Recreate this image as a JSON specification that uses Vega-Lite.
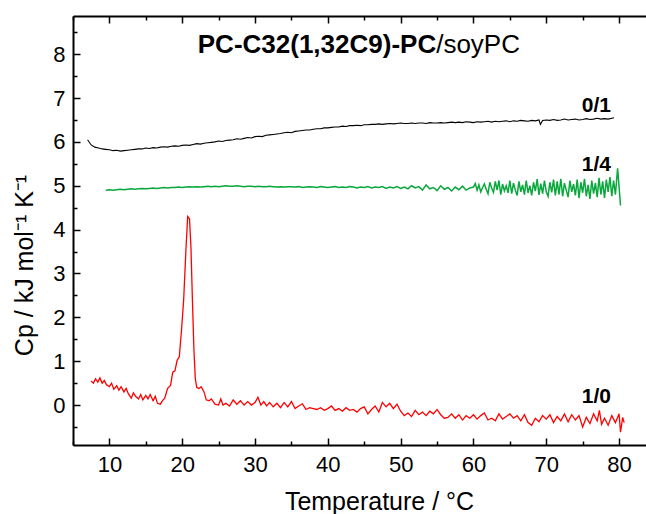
{
  "$schema": "https://vega.github.io/schema/vega-lite/v6.json",
  "width": 573,
  "height": 429,
  "autosize": "none",
  "padding": {"left": 73, "top": 16, "right": 0, "bottom": 69},
  "background": "white",
  "config": {
    "view": {"stroke": null},
    "font": "Liberation Sans",
    "axis": {
      "domainColor": "black",
      "domainWidth": 2,
      "tickColor": "black",
      "tickWidth": 1.5,
      "labelColor": "black",
      "titleColor": "black",
      "labelFont": "Liberation Sans",
      "titleFont": "Liberation Sans",
      "labelFontSize": 22,
      "titleFontSize": 25,
      "titleFontWeight": "normal",
      "labelOverlap": false,
      "grid": false
    }
  },
  "datasets": {
    "black": [
      {"t": 7.0, "v": 6.05}, {"t": 7.5, "v": 5.93}, {"t": 8.0, "v": 5.88}, {"t": 8.5, "v": 5.86}, {"t": 9.0, "v": 5.84}, {"t": 9.5, "v": 5.83}, {"t": 10.0, "v": 5.82}, {"t": 10.5, "v": 5.8}, {"t": 11.0, "v": 5.81}, {"t": 11.5, "v": 5.79}, {"t": 12.0, "v": 5.8}, {"t": 12.5, "v": 5.81}, {"t": 13.0, "v": 5.82}, {"t": 13.5, "v": 5.83}, {"t": 14.0, "v": 5.84}, {"t": 14.5, "v": 5.84}, {"t": 15.0, "v": 5.86}, {"t": 15.5, "v": 5.85}, {"t": 16.0, "v": 5.87}, {"t": 16.5, "v": 5.86}, {"t": 17.0, "v": 5.88}, {"t": 17.5, "v": 5.89}, {"t": 18.0, "v": 5.88}, {"t": 18.5, "v": 5.9}, {"t": 19.0, "v": 5.91}, {"t": 19.5, "v": 5.9}, {"t": 20.0, "v": 5.92}, {"t": 20.5, "v": 5.93}, {"t": 21.0, "v": 5.92}, {"t": 21.5, "v": 5.94}, {"t": 22.0, "v": 5.96}, {"t": 22.5, "v": 5.95}, {"t": 23.0, "v": 5.97}, {"t": 23.5, "v": 5.98}, {"t": 24.0, "v": 5.99}, {"t": 24.5, "v": 6.0}, {"t": 25.0, "v": 6.02}, {"t": 25.5, "v": 6.01}, {"t": 26.0, "v": 6.03}, {"t": 26.5, "v": 6.04}, {"t": 27.0, "v": 6.05}, {"t": 27.5, "v": 6.07}, {"t": 28.0, "v": 6.06}, {"t": 28.5, "v": 6.08}, {"t": 29.0, "v": 6.1}, {"t": 29.5, "v": 6.09}, {"t": 30.0, "v": 6.12}, {"t": 30.5, "v": 6.13}, {"t": 31.0, "v": 6.12}, {"t": 31.5, "v": 6.15}, {"t": 32.0, "v": 6.16}, {"t": 32.5, "v": 6.17}, {"t": 33.0, "v": 6.18}, {"t": 33.5, "v": 6.19}, {"t": 34.0, "v": 6.21}, {"t": 34.5, "v": 6.22}, {"t": 35.0, "v": 6.21}, {"t": 35.5, "v": 6.24}, {"t": 36.0, "v": 6.25}, {"t": 36.5, "v": 6.26}, {"t": 37.0, "v": 6.27}, {"t": 37.5, "v": 6.27}, {"t": 38.0, "v": 6.29}, {"t": 38.5, "v": 6.3}, {"t": 39.0, "v": 6.3}, {"t": 39.5, "v": 6.32}, {"t": 40.0, "v": 6.32}, {"t": 40.5, "v": 6.33}, {"t": 41.0, "v": 6.34}, {"t": 41.5, "v": 6.34}, {"t": 42.0, "v": 6.36}, {"t": 42.5, "v": 6.35}, {"t": 43.0, "v": 6.37}, {"t": 43.5, "v": 6.37}, {"t": 44.0, "v": 6.38}, {"t": 44.5, "v": 6.37}, {"t": 45.0, "v": 6.39}, {"t": 45.5, "v": 6.39}, {"t": 46.0, "v": 6.4}, {"t": 46.5, "v": 6.4}, {"t": 47.0, "v": 6.41}, {"t": 47.5, "v": 6.4}, {"t": 48.0, "v": 6.41}, {"t": 48.5, "v": 6.42}, {"t": 49.0, "v": 6.41}, {"t": 49.5, "v": 6.42}, {"t": 50.0, "v": 6.43}, {"t": 50.5, "v": 6.42}, {"t": 51.0, "v": 6.42}, {"t": 51.5, "v": 6.43}, {"t": 52.0, "v": 6.42}, {"t": 52.5, "v": 6.43}, {"t": 53.0, "v": 6.43}, {"t": 53.5, "v": 6.42}, {"t": 54.0, "v": 6.44}, {"t": 54.5, "v": 6.43}, {"t": 55.0, "v": 6.43}, {"t": 55.5, "v": 6.44}, {"t": 56.0, "v": 6.43}, {"t": 56.5, "v": 6.44}, {"t": 57.0, "v": 6.45}, {"t": 57.5, "v": 6.44}, {"t": 58.0, "v": 6.45}, {"t": 58.5, "v": 6.44}, {"t": 59.0, "v": 6.46}, {"t": 59.5, "v": 6.45}, {"t": 60.0, "v": 6.44}, {"t": 60.5, "v": 6.46}, {"t": 61.0, "v": 6.45}, {"t": 61.5, "v": 6.46}, {"t": 62.0, "v": 6.47}, {"t": 62.5, "v": 6.45}, {"t": 63.0, "v": 6.47}, {"t": 63.5, "v": 6.46}, {"t": 64.0, "v": 6.47}, {"t": 64.5, "v": 6.48}, {"t": 65.0, "v": 6.46}, {"t": 65.5, "v": 6.48}, {"t": 66.0, "v": 6.47}, {"t": 66.5, "v": 6.49}, {"t": 67.0, "v": 6.48}, {"t": 67.5, "v": 6.47}, {"t": 68.0, "v": 6.49}, {"t": 68.5, "v": 6.48}, {"t": 69.0, "v": 6.5}, {"t": 69.2, "v": 6.4}, {"t": 69.5, "v": 6.49}, {"t": 70.0, "v": 6.5}, {"t": 70.5, "v": 6.49}, {"t": 71.0, "v": 6.51}, {"t": 71.5, "v": 6.49}, {"t": 72.0, "v": 6.5}, {"t": 72.5, "v": 6.52}, {"t": 73.0, "v": 6.5}, {"t": 73.5, "v": 6.51}, {"t": 74.0, "v": 6.52}, {"t": 74.5, "v": 6.5}, {"t": 75.0, "v": 6.51}, {"t": 75.5, "v": 6.53}, {"t": 76.0, "v": 6.51}, {"t": 76.5, "v": 6.52}, {"t": 77.0, "v": 6.54}, {"t": 77.5, "v": 6.52}, {"t": 78.0, "v": 6.53}, {"t": 78.5, "v": 6.52}, {"t": 79.0, "v": 6.54}, {"t": 79.3, "v": 6.55}
    ],
    "green": [
      {"t": 9.5, "v": 4.9}, {"t": 10, "v": 4.91}, {"t": 10.5, "v": 4.9}, {"t": 11, "v": 4.91}, {"t": 11.5, "v": 4.92}, {"t": 12, "v": 4.91}, {"t": 12.5, "v": 4.92}, {"t": 13, "v": 4.93}, {"t": 13.5, "v": 4.92}, {"t": 14, "v": 4.93}, {"t": 14.5, "v": 4.94}, {"t": 15, "v": 4.93}, {"t": 15.5, "v": 4.94}, {"t": 16, "v": 4.95}, {"t": 16.5, "v": 4.94}, {"t": 17, "v": 4.95}, {"t": 17.5, "v": 4.96}, {"t": 18, "v": 4.95}, {"t": 18.5, "v": 4.96}, {"t": 19, "v": 4.96}, {"t": 19.5, "v": 4.97}, {"t": 20, "v": 4.96}, {"t": 20.5, "v": 4.97}, {"t": 21, "v": 4.98}, {"t": 21.5, "v": 4.97}, {"t": 22, "v": 4.98}, {"t": 22.5, "v": 4.97}, {"t": 23, "v": 4.98}, {"t": 23.5, "v": 4.99}, {"t": 24, "v": 4.98}, {"t": 24.5, "v": 4.99}, {"t": 25, "v": 4.98}, {"t": 25.5, "v": 4.99}, {"t": 26, "v": 5.0}, {"t": 26.5, "v": 4.99}, {"t": 27, "v": 4.99}, {"t": 27.5, "v": 5.0}, {"t": 28, "v": 4.99}, {"t": 28.5, "v": 4.98}, {"t": 29, "v": 4.99}, {"t": 29.5, "v": 4.99}, {"t": 30, "v": 4.98}, {"t": 30.5, "v": 4.99}, {"t": 31, "v": 4.98}, {"t": 31.5, "v": 4.98}, {"t": 32, "v": 4.99}, {"t": 32.5, "v": 4.98}, {"t": 33, "v": 4.97}, {"t": 33.5, "v": 4.98}, {"t": 34, "v": 4.97}, {"t": 34.5, "v": 4.98}, {"t": 35, "v": 4.98}, {"t": 35.5, "v": 4.97}, {"t": 36, "v": 4.98}, {"t": 36.5, "v": 4.96}, {"t": 37, "v": 4.97}, {"t": 37.5, "v": 4.98}, {"t": 38, "v": 4.97}, {"t": 38.5, "v": 4.96}, {"t": 39, "v": 4.98}, {"t": 39.5, "v": 4.97}, {"t": 40, "v": 4.96}, {"t": 40.5, "v": 4.97}, {"t": 41, "v": 4.98}, {"t": 41.5, "v": 4.96}, {"t": 42, "v": 4.97}, {"t": 42.5, "v": 4.96}, {"t": 43, "v": 4.98}, {"t": 43.5, "v": 4.97}, {"t": 44, "v": 4.95}, {"t": 44.5, "v": 4.97}, {"t": 45, "v": 4.96}, {"t": 45.5, "v": 4.98}, {"t": 46, "v": 4.95}, {"t": 46.5, "v": 4.97}, {"t": 47, "v": 4.96}, {"t": 47.5, "v": 4.98}, {"t": 48, "v": 4.94}, {"t": 48.5, "v": 4.97}, {"t": 49, "v": 4.95}, {"t": 49.5, "v": 4.98}, {"t": 50, "v": 4.94}, {"t": 50.5, "v": 4.97}, {"t": 51, "v": 4.93}, {"t": 51.5, "v": 5.0}, {"t": 52, "v": 4.95}, {"t": 52.5, "v": 4.98}, {"t": 53, "v": 4.9}, {"t": 53.5, "v": 5.02}, {"t": 54, "v": 4.93}, {"t": 54.5, "v": 4.96}, {"t": 55, "v": 4.89}, {"t": 55.5, "v": 5.0}, {"t": 56, "v": 4.92}, {"t": 56.5, "v": 4.96}, {"t": 57, "v": 4.88}, {"t": 57.5, "v": 4.97}, {"t": 58, "v": 4.91}, {"t": 58.5, "v": 4.99}, {"t": 59, "v": 4.9}, {"t": 59.5, "v": 4.95},
      {"t": 60, "v": 4.97}, {"t": 60.25, "v": 5.05}, {"t": 60.5, "v": 4.9}, {"t": 60.75, "v": 5.02}, {"t": 61, "v": 4.86}, {"t": 61.25, "v": 4.96}, {"t": 61.5, "v": 5.04}, {"t": 61.75, "v": 4.92}, {"t": 62, "v": 4.82}, {"t": 62.25, "v": 5.08}, {"t": 62.5, "v": 4.95}, {"t": 62.75, "v": 4.85}, {"t": 63, "v": 5.1}, {"t": 63.25, "v": 4.9}, {"t": 63.5, "v": 5.12}, {"t": 63.75, "v": 4.8}, {"t": 64, "v": 5.04}, {"t": 64.25, "v": 4.88}, {"t": 64.5, "v": 5.0}, {"t": 64.75, "v": 4.84}, {"t": 65, "v": 5.12}, {"t": 65.25, "v": 4.82}, {"t": 65.5, "v": 5.06}, {"t": 65.75, "v": 4.9}, {"t": 66, "v": 4.78}, {"t": 66.25, "v": 5.1}, {"t": 66.5, "v": 4.86}, {"t": 66.75, "v": 5.02}, {"t": 67, "v": 4.8}, {"t": 67.25, "v": 5.12}, {"t": 67.5, "v": 4.84}, {"t": 67.75, "v": 5.0}, {"t": 68, "v": 4.78}, {"t": 68.25, "v": 5.08}, {"t": 68.5, "v": 4.88}, {"t": 68.75, "v": 5.15}, {"t": 69, "v": 4.79}, {"t": 69.25, "v": 5.05}, {"t": 69.5, "v": 4.82}, {"t": 69.75, "v": 5.12}, {"t": 70, "v": 4.86}, {"t": 70.25, "v": 4.76}, {"t": 70.5, "v": 5.08}, {"t": 70.75, "v": 4.85}, {"t": 71, "v": 5.14}, {"t": 71.25, "v": 4.78}, {"t": 71.5, "v": 5.1}, {"t": 71.75, "v": 4.8}, {"t": 72, "v": 5.16}, {"t": 72.25, "v": 4.76}, {"t": 72.5, "v": 5.06}, {"t": 72.75, "v": 4.9}, {"t": 73, "v": 4.74}, {"t": 73.25, "v": 5.12}, {"t": 73.5, "v": 4.86}, {"t": 73.75, "v": 5.04}, {"t": 74, "v": 4.78}, {"t": 74.25, "v": 5.14}, {"t": 74.5, "v": 4.72}, {"t": 74.75, "v": 5.08}, {"t": 75, "v": 4.84}, {"t": 75.25, "v": 5.16}, {"t": 75.5, "v": 4.76}, {"t": 75.75, "v": 5.02}, {"t": 76, "v": 4.7}, {"t": 76.25, "v": 5.12}, {"t": 76.5, "v": 4.82}, {"t": 76.75, "v": 5.06}, {"t": 77, "v": 4.74}, {"t": 77.25, "v": 5.18}, {"t": 77.5, "v": 4.8}, {"t": 77.75, "v": 5.1}, {"t": 78, "v": 4.72}, {"t": 78.25, "v": 5.14}, {"t": 78.5, "v": 4.86}, {"t": 78.75, "v": 5.2}, {"t": 79, "v": 4.76}, {"t": 79.25, "v": 5.12}, {"t": 79.5, "v": 4.8}, {"t": 79.8, "v": 5.4}, {"t": 80.2, "v": 4.55}
    ],
    "red": [
      {"t": 7.5, "v": 0.55}, {"t": 7.8, "v": 0.5}, {"t": 8.1, "v": 0.6}, {"t": 8.4, "v": 0.52}, {"t": 8.7, "v": 0.62}, {"t": 9.0, "v": 0.5}, {"t": 9.3, "v": 0.56}, {"t": 9.6, "v": 0.46}, {"t": 10.0, "v": 0.42}, {"t": 10.3, "v": 0.5}, {"t": 10.6, "v": 0.36}, {"t": 11.0, "v": 0.44}, {"t": 11.3, "v": 0.34}, {"t": 11.6, "v": 0.42}, {"t": 12.0, "v": 0.3}, {"t": 12.3, "v": 0.38}, {"t": 12.6, "v": 0.26}, {"t": 13.0, "v": 0.16}, {"t": 13.3, "v": 0.28}, {"t": 13.6, "v": 0.2}, {"t": 14.0, "v": 0.14}, {"t": 14.3, "v": 0.24}, {"t": 14.6, "v": 0.12}, {"t": 15.0, "v": 0.22}, {"t": 15.3, "v": 0.14}, {"t": 15.6, "v": 0.24}, {"t": 16.0, "v": 0.1}, {"t": 16.3, "v": 0.2}, {"t": 16.6, "v": 0.04}, {"t": 17.0, "v": 0.02}, {"t": 17.3, "v": 0.1}, {"t": 17.6, "v": 0.16},
      {"t": 18.0, "v": 0.38}, {"t": 18.4, "v": 0.45}, {"t": 18.7, "v": 0.75}, {"t": 19.0, "v": 0.78}, {"t": 19.3, "v": 1.02}, {"t": 19.6, "v": 1.1}, {"t": 19.9, "v": 1.7}, {"t": 20.2, "v": 2.4}, {"t": 20.5, "v": 3.5}, {"t": 20.75, "v": 4.3}, {"t": 21.0, "v": 4.25}, {"t": 21.2, "v": 3.6}, {"t": 21.4, "v": 2.4}, {"t": 21.6, "v": 1.3}, {"t": 21.8, "v": 0.6}, {"t": 22.0, "v": 0.4}, {"t": 22.3, "v": 0.38}, {"t": 22.6, "v": 0.42}, {"t": 23.0, "v": 0.3}, {"t": 23.3, "v": 0.12}, {"t": 23.7, "v": 0.1},
      {"t": 24.0, "v": 0.14}, {"t": 24.5, "v": 0.02}, {"t": 25.0, "v": 0.0}, {"t": 25.3, "v": 0.14}, {"t": 25.6, "v": 0.0}, {"t": 26.0, "v": 0.04}, {"t": 26.5, "v": -0.02}, {"t": 27.0, "v": 0.12}, {"t": 27.5, "v": 0.02}, {"t": 28.0, "v": 0.1}, {"t": 28.5, "v": 0.0}, {"t": 29.0, "v": 0.08}, {"t": 29.5, "v": 0.0}, {"t": 30.0, "v": 0.06}, {"t": 30.4, "v": 0.18}, {"t": 30.8, "v": 0.0}, {"t": 31.2, "v": 0.08}, {"t": 31.6, "v": -0.02}, {"t": 32.0, "v": 0.06}, {"t": 32.5, "v": -0.04}, {"t": 33.0, "v": 0.04}, {"t": 33.5, "v": -0.06}, {"t": 34.0, "v": 0.06}, {"t": 34.5, "v": -0.04}, {"t": 35.0, "v": 0.08}, {"t": 35.5, "v": -0.08}, {"t": 36.0, "v": -0.02}, {"t": 36.5, "v": 0.03}, {"t": 37.0, "v": -0.1}, {"t": 37.5, "v": -0.06}, {"t": 38.0, "v": -0.08}, {"t": 38.5, "v": -0.1}, {"t": 39.0, "v": -0.06}, {"t": 39.5, "v": -0.12}, {"t": 40.0, "v": -0.08}, {"t": 40.5, "v": -0.02}, {"t": 41.0, "v": -0.12}, {"t": 41.5, "v": -0.08}, {"t": 42.0, "v": -0.14}, {"t": 42.5, "v": -0.06}, {"t": 43.0, "v": -0.12}, {"t": 43.5, "v": -0.1}, {"t": 44.0, "v": -0.16}, {"t": 44.5, "v": -0.08}, {"t": 45.0, "v": -0.04}, {"t": 45.5, "v": -0.2}, {"t": 46.0, "v": -0.1}, {"t": 46.5, "v": -0.02}, {"t": 47.0, "v": -0.16}, {"t": 47.5, "v": 0.06}, {"t": 48.0, "v": -0.04}, {"t": 48.5, "v": 0.04}, {"t": 49.0, "v": -0.08}, {"t": 49.5, "v": 0.02}, {"t": 50.0, "v": -0.14}, {"t": 50.5, "v": -0.24}, {"t": 51.0, "v": -0.18}, {"t": 51.5, "v": -0.26}, {"t": 52.0, "v": -0.12}, {"t": 52.5, "v": -0.22}, {"t": 53.0, "v": -0.16}, {"t": 53.5, "v": -0.24}, {"t": 54.0, "v": -0.14}, {"t": 54.5, "v": -0.2}, {"t": 55.0, "v": -0.1}, {"t": 55.5, "v": -0.22}, {"t": 56.0, "v": -0.3}, {"t": 56.5, "v": -0.28}, {"t": 57.0, "v": -0.2}, {"t": 57.5, "v": -0.3}, {"t": 58.0, "v": -0.22}, {"t": 58.5, "v": -0.34}, {"t": 59.0, "v": -0.24}, {"t": 59.5, "v": -0.3}, {"t": 60.0, "v": -0.22}, {"t": 60.5, "v": -0.32}, {"t": 61.0, "v": -0.24}, {"t": 61.5, "v": -0.18}, {"t": 62.0, "v": -0.34}, {"t": 62.5, "v": -0.3}, {"t": 63.0, "v": -0.36}, {"t": 63.5, "v": -0.2}, {"t": 64.0, "v": -0.32}, {"t": 64.5, "v": -0.26}, {"t": 65.0, "v": -0.2}, {"t": 65.5, "v": -0.3}, {"t": 66.0, "v": -0.24}, {"t": 66.5, "v": -0.36}, {"t": 67.0, "v": -0.22}, {"t": 67.5, "v": -0.4}, {"t": 68.0, "v": -0.46}, {"t": 68.5, "v": -0.3}, {"t": 69.0, "v": -0.38}, {"t": 69.5, "v": -0.24}, {"t": 70.0, "v": -0.32}, {"t": 70.5, "v": -0.22}, {"t": 71.0, "v": -0.4}, {"t": 71.5, "v": -0.26}, {"t": 72.0, "v": -0.36}, {"t": 72.5, "v": -0.2}, {"t": 73.0, "v": -0.38}, {"t": 73.5, "v": -0.22}, {"t": 74.0, "v": -0.34}, {"t": 74.5, "v": -0.24}, {"t": 75.0, "v": -0.5}, {"t": 75.5, "v": -0.28}, {"t": 76.0, "v": -0.42}, {"t": 76.5, "v": -0.2}, {"t": 77.0, "v": -0.36}, {"t": 77.3, "v": -0.12}, {"t": 77.6, "v": -0.44}, {"t": 78.0, "v": -0.3}, {"t": 78.5, "v": -0.46}, {"t": 79.0, "v": -0.24}, {"t": 79.5, "v": -0.4}, {"t": 80.0, "v": -0.2}, {"t": 80.2, "v": -0.62}, {"t": 80.5, "v": -0.28}, {"t": 80.7, "v": -0.4}
    ],
    "labels": [
      {"t": 78.9, "v": 6.68, "txt": "0/1"},
      {"t": 78.9, "v": 5.34, "txt": "1/4"},
      {"t": 78.9, "v": 0.05, "txt": "1/0"}
    ],
    "titleBold": [{"t": 54.88, "v": 8.03, "txt": "PC-C32(1,32C9)-PC"}],
    "titleNormal": [{"t": 54.88, "v": 8.03, "txt": "/soyPC"}]
  },
  "layer": [
    {
      "data": {"name": "black"},
      "mark": {"type": "line", "color": "black", "strokeWidth": 1.1, "clip": true},
      "encoding": {
        "x": {
          "field": "t", "type": "quantitative",
          "scale": {"domain": [5, 83.7], "nice": false, "zero": false},
          "axis": {
            "orient": "bottom",
            "values": [5, 10, 15, 20, 25, 30, 35, 40, 45, 50, 55, 60, 65, 70, 75, 80],
            "labelExpr": "datum.value % 10 === 0 ? datum.label : ''",
            "tickSize": {"condition": {"test": "datum.value % 10 === 0", "value": -7}, "value": -4},
            "labelPadding": 16,
            "title": "Temperature / °C",
            "titleBaseline": "alphabetic",
            "titleAlign": "center",
            "titleY": 64,
            "titleX": 306
          }
        },
        "y": {
          "field": "v", "type": "quantitative",
          "scale": {"domain": [-0.91, 8.87], "nice": false, "zero": false},
          "axis": {
            "orient": "left",
            "values": [-0.5, 0, 0.5, 1, 1.5, 2, 2.5, 3, 3.5, 4, 4.5, 5, 5.5, 6, 6.5, 7, 7.5, 8, 8.5],
            "labelExpr": "abs(datum.value - round(datum.value)) < 0.01 ? format(datum.value, 'd') : ''",
            "tickSize": {"condition": {"test": "abs(datum.value - round(datum.value)) < 0.01", "value": -7}, "value": -4},
            "labelPadding": 15,
            "title": "Cp / kJ mol⁻¹ K⁻¹",
            "titleBaseline": "alphabetic",
            "titleAlign": "center",
            "titleAngle": -90,
            "titleX": -41,
            "titleY": 249
          }
        }
      }
    },
    {
      "data": {"name": "green"},
      "mark": {"type": "line", "color": "#0aa83c", "strokeWidth": 1.5, "clip": true},
      "encoding": {
        "x": {
          "field": "t", "type": "quantitative",
          "axis": {
            "orient": "top",
            "values": [5, 10, 15, 20, 25, 30, 35, 40, 45, 50, 55, 60, 65, 70, 75, 80],
            "labels": false,
            "title": null,
            "tickSize": {"condition": {"test": "datum.value % 10 === 0", "value": -7}, "value": -4}
          }
        },
        "y": {"field": "v", "type": "quantitative", "axis": null}
      }
    },
    {
      "data": {"name": "red"},
      "mark": {"type": "line", "color": "#ff0000", "strokeWidth": 1.3, "clip": true},
      "encoding": {
        "x": {"field": "t", "type": "quantitative", "axis": null},
        "y": {"field": "v", "type": "quantitative", "axis": null}
      }
    },
    {
      "data": {"name": "labels"},
      "mark": {"type": "text", "align": "right", "baseline": "alphabetic", "fontWeight": "bold", "fontSize": 21, "font": "Liberation Sans", "color": "black"},
      "encoding": {
        "x": {"field": "t", "type": "quantitative", "axis": null},
        "y": {"field": "v", "type": "quantitative", "axis": null},
        "text": {"field": "txt"}
      }
    },
    {
      "data": {"name": "titleBold"},
      "mark": {"type": "text", "align": "right", "baseline": "alphabetic", "fontWeight": "bold", "fontSize": 26, "font": "Liberation Sans", "color": "black"},
      "encoding": {
        "x": {"field": "t", "type": "quantitative", "axis": null},
        "y": {"field": "v", "type": "quantitative", "axis": null},
        "text": {"field": "txt"}
      }
    },
    {
      "data": {"name": "titleNormal"},
      "mark": {"type": "text", "align": "left", "baseline": "alphabetic", "fontSize": 26, "font": "Liberation Sans", "color": "black"},
      "encoding": {
        "x": {"field": "t", "type": "quantitative", "axis": null},
        "y": {"field": "v", "type": "quantitative", "axis": null},
        "text": {"field": "txt"}
      }
    }
  ],
  "resolve": {"axis": {"x": "independent", "y": "independent"}}
}
